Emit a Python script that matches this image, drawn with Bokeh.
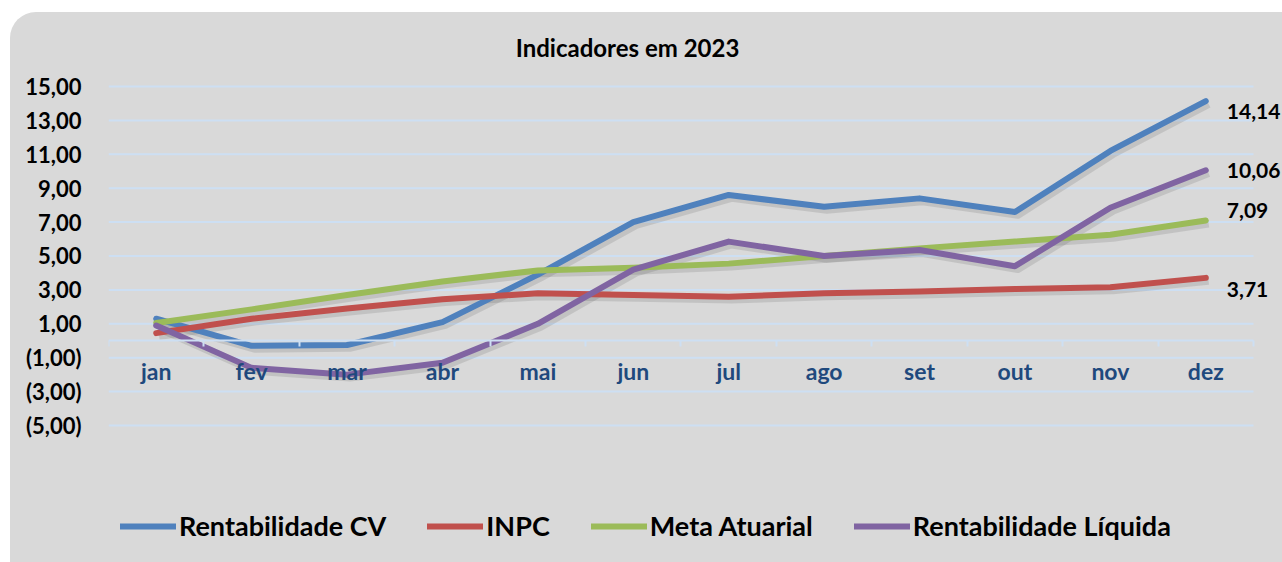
from bokeh.plotting import figure
from bokeh.models import Range1d, FixedTicker, Legend, LegendItem, Label
from bokeh.embed import file_html
from bokeh.resources import INLINE

# ---- data ----
months = ["jan", "fev", "mar", "abr", "mai", "jun", "jul", "ago", "set", "out", "nov", "dez"]
rent_cv = [1.3, -0.3, -0.25, 1.1, 3.9, 7.0, 8.6, 7.9, 8.4, 7.6, 11.2, 14.14]
inpc = [0.45, 1.3, 1.9, 2.45, 2.8, 2.7, 2.6, 2.8, 2.9, 3.05, 3.15, 3.71]
meta_atuarial = [1.05, 1.85, 2.7, 3.5, 4.15, 4.3, 4.55, 5.0, 5.45, 5.85, 6.25, 7.09]
rent_liq = [0.9, -1.6, -2.0, -1.3, 1.0, 4.2, 5.85, 5.0, 5.35, 4.4, 7.85, 10.06]
series_names = ["Rentabilidade CV", "INPC", "Meta Atuarial", "Rentabilidade Líquida"]
y_ticks = [-5, -3, -1, 1, 3, 5, 7, 9, 11, 13, 15]
title_text = "Indicadores em 2023"

colors = ["#4F81BD", "#C0504D", "#9BBB59", "#8064A2"]
series = [rent_cv, inpc, meta_atuarial, rent_liq]
FONT = "Lato"
BG = "#d9d9d9"
GRID = "#cddff3"

n = len(months)
x = list(range(n))
x_lo, x_hi = -0.5, n - 0.5


def fmt(v):
    s = f"{abs(v):.2f}".replace(".", ",")
    return f"({s})" if v < 0 else s


# frame spans the whole figure vertically and to the right edge; ranges extended accordingly
p = figure(
    width=1272, height=550,
    x_range=Range1d(x_lo, 11.804),
    y_range=Range1d(-13.083, 19.366),
    output_backend="svg", toolbar_location=None,
    min_border_left=98, min_border_right=0, min_border_top=0, min_border_bottom=0,
    background_fill_color=None, border_fill_color=None, outline_line_color=None,
)
p.margin = (12, 0, 0, 10)
p.styles = {"background-color": BG, "border-top-left-radius": "26px", "overflow": "hidden"}

# shadow ranges (offset a few px right / down)
p.extra_x_ranges = {"sh": Range1d(x_lo - 0.03, 11.804 - 0.03)}
p.extra_y_ranges = {"sh": Range1d(-13.083 + 0.17, 19.366 + 0.17)}

# y axis
p.yaxis.ticker = FixedTicker(ticks=y_ticks)
p.yaxis.major_label_overrides = {v: fmt(v) for v in y_ticks}
p.yaxis.axis_line_color = None
p.yaxis.major_tick_line_color = None
p.yaxis.minor_tick_line_color = None
p.yaxis.major_tick_out = 0
p.yaxis.major_label_standoff = 27
p.yaxis.major_label_text_font = FONT
p.yaxis.major_label_text_font_style = "bold"
p.yaxis.major_label_text_font_size = "22px"
p.yaxis.major_label_text_color = "#000000"

p.grid.visible = False
# horizontal gridlines limited to the category span
p.segment(x0=[x_lo] * len(y_ticks), x1=[x_hi] * len(y_ticks), y0=y_ticks, y1=y_ticks,
          line_color=GRID, line_width=2)

# x axis at zero
p.xaxis.fixed_location = 0
p.xaxis.bounds = (x_lo, x_hi)
p.xaxis.ticker = FixedTicker(ticks=x, minor_ticks=[i - 0.5 for i in range(n + 1)])
p.xaxis.major_label_overrides = {i: m for i, m in enumerate(months)}
p.xaxis.axis_line_color = GRID
p.xaxis.axis_line_width = 2
p.xaxis.major_tick_line_color = None
p.xaxis.minor_tick_line_color = GRID
p.xaxis.minor_tick_line_width = 2
p.xaxis.minor_tick_out = 6
p.xaxis.minor_tick_in = 0
p.xaxis.major_label_standoff = 10
p.xaxis.major_label_text_font = FONT
p.xaxis.major_label_text_font_style = "bold"
p.xaxis.major_label_text_font_size = "23px"
p.xaxis.major_label_text_color = "#1F497D"

# shadows
for ys in series:
    p.line(x, ys, x_range_name="sh", y_range_name="sh", line_color="#000000",
           line_alpha=0.1, line_width=8, line_join="round")

items = []
for name, ys, c in zip(series_names, series, colors):
    r = p.line(x, ys, line_color=c, line_width=6, line_join="round", line_cap="round")
    items.append(LegendItem(label=name, renderers=[r]))

# end labels
offsets = {0: -10, 1: -12, 2: 10, 3: 0}
for i, ys in enumerate(series):
    p.add_layout(Label(x=x[-1], y=ys[-1], text=fmt(ys[-1]), x_offset=21, y_offset=offsets[i],
                       text_baseline="middle", text_align="left", text_font=FONT,
                       text_font_style="bold", text_font_size="21px", text_color="#000000"))

# title
p.add_layout(Label(x=4.94, y=17.3, text=title_text, text_align="center", text_baseline="middle",
                   text_font=FONT, text_font_style="bold", text_font_size="24px",
                   text_color="#000000"))

legend = Legend(items=items, orientation="horizontal", location=(12, 20),
                glyph_width=56, glyph_height=20, label_standoff=3, spacing=41,
                padding=0, margin=0, background_fill_alpha=0, border_line_color=None,
                label_text_font=FONT, label_text_font_style="bold",
                label_text_font_size="27px", label_text_color="#000000")
p.add_layout(legend)

open("out.html", "w").write(file_html(p, INLINE))
